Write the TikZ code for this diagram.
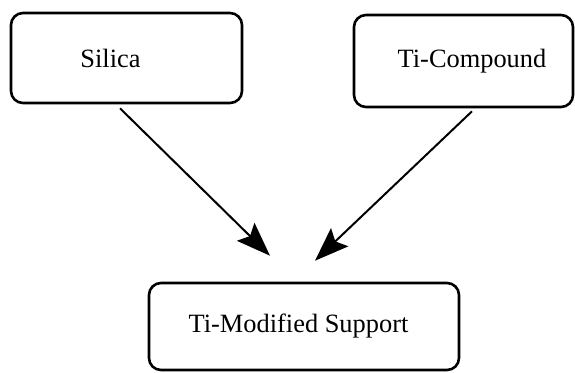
\documentclass[tikz,border=0pt]{standalone}
\usepackage{fontspec}
\setmainfont{Liberation Serif}
\usetikzlibrary{arrows.meta,positioning,calc}

\begin{document}
\begin{tikzpicture}[x=0.5pt, y=-0.5pt,
    stage/.style={draw, rounded corners=6pt, line width=1.3pt, inner sep=0pt,
                  font=\fontsize{13.2}{15}\selectfont},
    flow/.style={line width=1pt, -{Stealth[length=17pt, width=12.5pt, inset=3pt]}}]
    \useasboundingbox (0,0) rectangle (575,372);

    % Boxes
    \node[stage, minimum width=115.5pt, minimum height=45pt] (silica) at (126.5,58) {Silica\hspace*{16pt}};
    \node[stage, minimum width=109.5pt, minimum height=46pt] (ticomp) at (463.5,61) {\hspace*{8.5pt}Ti-Compound};
    \node[stage, minimum width=155pt, minimum height=43.5pt] (support) at (304,326.5) {Ti-Modified Support\hspace*{5.5pt}};

    % Arrows
    \draw[flow] ([xshift=-3.25pt, yshift=-2pt]silica.south) -- ([xshift=-17pt, yshift=13pt]support.north);
    \draw[flow] ([xshift=4.25pt, yshift=-1.5pt]ticomp.south) -- ([xshift=5.5pt, yshift=10.5pt]support.north);
\end{tikzpicture}
\end{document}
